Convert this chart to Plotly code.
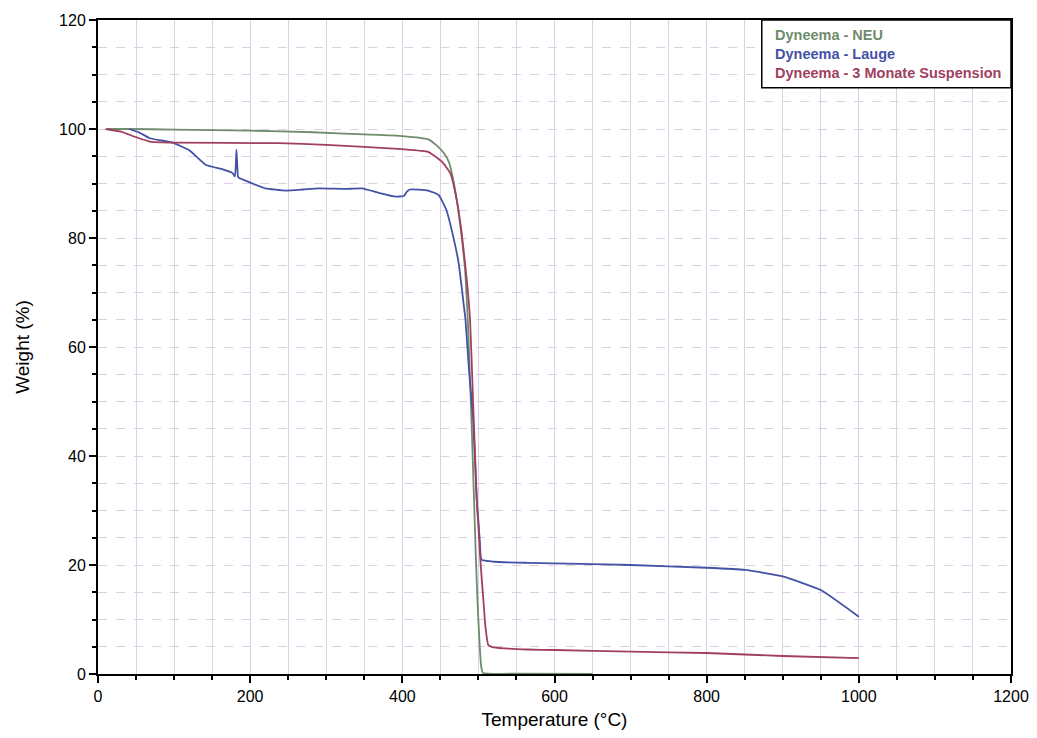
import plotly.graph_objects as go

# ---- data ----
T_neu = [12, 40, 100, 200, 282, 350, 400, 434, 445, 455, 461, 467, 474, 478, 482.6,
         486, 489, 491.5, 494, 496.5, 498.7, 501, 503.5, 506, 550, 650]
W_neu = [100, 100, 99.9, 99.7, 99.4, 99.0, 98.7, 98.1, 97.0, 95.5, 94.0, 90.6, 84.6, 80.2, 74.0,
         65, 54, 44, 33, 22, 13.6, 7, 1.5, 0.2, 0.05, 0.0]

T_lauge = [41, 55, 68, 98, 120, 142, 164, 177, 180, 182, 183, 184, 185.5, 203, 220, 247, 270,
           290, 325, 347, 369, 391, 402, 406, 410, 434, 447.6, 458, 467, 474, 480, 483, 488,
           493, 497.8, 500, 502, 504, 520, 565, 600, 700, 800, 850, 900, 950, 1000]
W_lauge = [100, 99.3, 98.3, 97.5, 96.1, 93.4, 92.6, 91.9, 91.3, 96.2, 93.5, 91.2, 91.0, 90.0,
           89.1, 88.7, 88.9, 89.1, 89.0, 89.1, 88.3, 87.6, 87.7, 88.5, 88.9, 88.7, 87.9, 85.1,
           80.2, 75.4, 68.6, 65, 55, 47, 32, 28, 24, 21, 20.6, 20.4, 20.3, 20.0, 19.5, 19.1,
           17.9, 15.4, 10.5]

T_susp = [10, 30, 50, 68, 100, 238, 300, 400, 434, 452, 463, 471.5, 478, 484.7, 489, 493,
          497.8, 500, 503, 506.5, 509, 513, 520, 565, 600, 700, 800, 900, 1000]
W_susp = [100, 99.5, 98.5, 97.7, 97.5, 97.4, 97.1, 96.3, 95.8, 94.0, 91.9, 87.0, 80.9, 72.3,
          65, 50, 31.9, 27, 20, 13.6, 9, 5.3, 4.9, 4.5, 4.4, 4.1, 3.85, 3.3, 2.9]

series_names = ["Dyneema - NEU", "Dyneema - Lauge", "Dyneema - 3 Monate Suspension"]
series_colors = ["#6f8c6c", "#4452a6", "#a0405e"]

x_ticks = [0, 200, 400, 600, 800, 1000, 1200]
y_ticks = [0, 20, 40, 60, 80, 100, 120]

FONT = "Liberation Sans, Arial, sans-serif"

fig = go.Figure()
for T, W, name, col in zip([T_neu, T_lauge, T_susp], [W_neu, W_lauge, W_susp],
                           series_names, series_colors):
    fig.add_trace(go.Scatter(x=T, y=W, mode="lines", name=name,
                             line=dict(color=col, width=1.8, shape="spline", smoothing=0.4),
                             showlegend=False))

grid_col = "#dcd0e4"
# page body has an 8px margin, so the figure is sized to fit inside it
fig.update_layout(
    width=1021, height=722,
    margin=dict(l=90, r=18, t=12, b=56),
    paper_bgcolor="white", plot_bgcolor="white",
    font=dict(family=FONT, size=14, color="black"),
    xaxis=dict(
        range=[0, 1200], tickvals=x_ticks, ticks="outside", ticklen=7, tickwidth=2,
        tickcolor="black", showline=True, linecolor="black", linewidth=2, mirror=True,
        showgrid=True, gridcolor=grid_col, gridwidth=1, zeroline=False, automargin=False,
        minor=dict(dtick=50, tick0=0, ticks="outside", ticklen=4, tickwidth=2,
                   tickcolor="black", showgrid=True, gridcolor=grid_col, gridwidth=1),
        title=dict(text="Temperature (°C)", font=dict(size=19), standoff=20),
        tickfont=dict(size=16),
    ),
    yaxis=dict(
        range=[0, 120], tickvals=y_ticks, ticks="outside", ticklen=7, tickwidth=2,
        tickcolor="black", showline=True, linecolor="black", linewidth=2, mirror=True,
        showgrid=True, gridcolor=grid_col, gridwidth=1, griddash="dash", zeroline=False,
        automargin=False,
        minor=dict(dtick=5, tick0=0, ticks="outside", ticklen=4, tickwidth=2,
                   tickcolor="black", showgrid=True, gridcolor=grid_col, gridwidth=1,
                   griddash="dash"),
        title=dict(text="Weight (%)", font=dict(size=19), standoff=24),
        tickfont=dict(size=16),
    ),
)

# legend box drawn as a rectangle with coloured text entries
fig.add_shape(type="rect", xref="paper", yref="paper",
              x0=0.727, x1=1.0, y0=0.8965, y1=1.0,
              line=dict(color="black", width=1.5), fillcolor="white", layer="above")
for i, (name, col) in enumerate(zip(series_names, series_colors)):
    fig.add_annotation(xref="paper", yref="paper", x=0.7395, y=0.977 - i * 0.029,
                       text="<b>" + name + "</b>", showarrow=False, xanchor="left",
                       yanchor="middle", font=dict(family=FONT, size=14.5, color=col))

fig.write_html("out.html")
